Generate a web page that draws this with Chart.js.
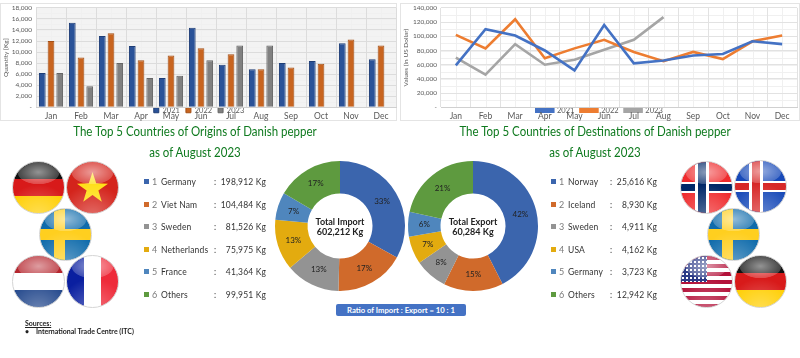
<!DOCTYPE html>
<html>
<head>
<meta charset="utf-8">
<title>Danish pepper trade</title>
<script src="https://cdn.jsdelivr.net/npm/chart.js@4"></script>
<style>
    html, body { margin: 0; padding: 0; background: #fff; }
    body { position: relative; width: 800px; height: 358px; overflow: hidden; font-family: Lato, sans-serif; color: #333; }
    canvas { position: absolute; }
    .panel { position: absolute; top: 3px; height: 118px; border: 1px solid #e4e4e4; box-sizing: border-box; }
    .title { position: absolute; transform: translateX(-50%) scaleX(.92); white-space: nowrap; color: #0f7a1f; font-size: 12.5px; line-height: 18px; }
    .row { position: absolute; height: 14px; line-height: 14px; font-size: 8.5px; letter-spacing: .15px; white-space: nowrap; }
    .row span { position: absolute; top: 0; }
    .row .sq { top: 4px; left: 0; width: 5px; height: 5px; }
    .row .num { left: 8px; color: #7a7a7a; font-size: 9px; }
    .row .name { left: 17px; }
    .row .val { right: 0; }
    .total { position: absolute; width: 80px; transform: translateX(-50%); text-align: center; font-size: 9px; line-height: 10px; font-weight: bold; color: #222; }
    .ratio { position: absolute; left: 336px; top: 304px; width: 130px; height: 12px; line-height: 12px; border-radius: 2px; background: #4472c4; color: #fff; font-size: 7.7px; font-weight: bold; text-align: center; }
    .src { position: absolute; font-size: 7px; font-weight: bold; color: #222; white-space: nowrap; }
    .flag { position: absolute; width: 53px; height: 53px; border-radius: 50%; overflow: hidden; box-sizing: border-box; border: 1.5px solid #d4d4d4; }
    .flag::after { content: ""; position: absolute; inset: 0; background:
        radial-gradient(ellipse 42% 24% at 50% 20%, rgba(255,255,255,.55), rgba(255,255,255,.22) 95%, rgba(255,255,255,0) 100%),
        radial-gradient(circle at 50% 110%, rgba(255,255,255,.35), rgba(255,255,255,0) 55%),
        radial-gradient(circle at 50% 50%, rgba(0,0,0,0) 70%, rgba(0,0,0,.18) 100%); }
    .star { position: absolute; left: 10px; top: 10px; width: 31px; height: 31px; background: #ffdf1a; clip-path: polygon(50% 0, 62% 36%, 100% 38%, 69% 60%, 80% 96%, 50% 74%, 20% 96%, 31% 60%, 0 38%, 38% 36%); }
    .germany { background: linear-gradient(#111 33%, #d81a1a 33% 66%, #ffce00 66%); }
    .vietnam { background: #d4241c; }
    .sweden { background: linear-gradient(#0f6bab 40%, #ffcf1f 40% 60%, #0f6bab 60%); }
    .sweden i { position: absolute; left: 14px; top: 0; width: 11px; height: 100%; background: #ffcf1f; }
    .netherlands { background: linear-gradient(#b5262e 33%, #fff 33% 66%, #21468b 66%); }
    .france { background: linear-gradient(90deg, #0a1fa0 33%, #fff 33% 66%, #ee2b3a 66%); }
    .norway { background: linear-gradient(#ef2b2d 40%, #fff 40% 43%, #002868 43% 57%, #fff 57% 60%, #ef2b2d 60%); }
    .norway i { position: absolute; left: 14px; top: 0; width: 8px; height: 100%; background: #002868; border-left: 3px solid #fff; border-right: 3px solid #fff; }
    .iceland { background: linear-gradient(#1749b8 40%, #fff 40% 43%, #d72828 43% 57%, #fff 57% 60%, #1749b8 60%); }
    .iceland i { position: absolute; left: 14px; top: 0; width: 8px; height: 100%; background: #d72828; border-left: 3px solid #fff; border-right: 3px solid #fff; }
    .usa { background: repeating-linear-gradient(#b3123a 0 4px, #fff 4px 8px); }
    .usa i { position: absolute; left: 0; top: 0; width: 26px; height: 26px; background: radial-gradient(circle, #fff 1px, transparent 1.2px) 0 0 / 4px 4px, #2b3a86; }
</style>
</head>
<body>
<div class="panel" style="left:0;width:397px"></div>
<div class="panel" style="left:400px;width:400px"></div>
<canvas id="barChart" width="397" height="149" style="left:0;top:0"></canvas>
<canvas id="lineChart" width="400" height="149" style="left:400px;top:0"></canvas>

<div class="title" style="left:195px;top:123px">The Top 5 Countries of Origins of Danish pepper</div>
<div class="title" style="left:195px;top:144px">as of August 2023</div>
<div class="title" style="left:595px;top:123px">The Top 5 Countries of Destinations of Danish pepper</div>
<div class="title" style="left:595px;top:144px">as of August 2023</div>

<div class="flag germany" style="left:12px;top:161px"></div>
<div class="flag vietnam" style="left:66px;top:161px"><div class="star"></div></div>
<div class="flag sweden" style="left:39px;top:208px"><i></i></div>
<div class="flag netherlands" style="left:12px;top:255px"></div>
<div class="flag france" style="left:66px;top:255px"></div>
<div class="flag norway" style="left:680px;top:161px"><i></i></div>
<div class="flag iceland" style="left:734px;top:160px"><i></i></div>
<div class="flag sweden" style="left:707px;top:208px"><i></i></div>
<div class="flag usa" style="left:680px;top:255px"><i></i></div>
<div class="flag germany" style="left:734px;top:255px"></div>

<canvas id="importChart" width="140" height="140" style="left:270px;top:156px"></canvas>
<canvas id="exportChart" width="140" height="140" style="left:403px;top:156px"></canvas>
<div class="total" style="left:340px;top:217px">Total Import<br>602,212 Kg</div>
<div class="total" style="left:473px;top:217px">Total Export<br>60,284 Kg</div>
<div class="ratio">Ratio of Import : Export = 10 : 1</div>

<div class="src" style="left:25px;top:319px;text-decoration:underline">Sources:</div>
<div class="src" style="left:25px;top:327px">•</div>
<div class="src" style="left:36px;top:327px">International Trade Centre (ITC)</div>

<div id="rows"></div>

<script>
const months = ["Jan", "Feb", "Mar", "Apr", "May", "Jun", "Jul", "Aug", "Sep", "Oct", "Nov", "Dec"];

// Quantity (Kg) per month
const qty2021 = [6200, 15300, 12900, 11100, 5300, 14400, 7700, 6900, 8000, 8400, 11600, 8700];
const qty2022 = [12000, 9000, 13400, 8500, 9400, 10700, 9600, 6900, 7200, 7900, 12300, 11200];
const qty2023 = [6200, 3800, 8000, 5300, 5700, 8500, 11200, 11200, null, null, null, null];

// Values (US dollar) per month
const val2021 = [59000, 110000, 101000, 80000, 52000, 116000, 62000, 66000, 73000, 75000, 93000, 89000];
const val2022 = [102000, 83000, 124000, 69000, 83000, 95000, 78000, 65000, 78000, 68000, 93000, 101000];
const val2023 = [70000, 46000, 89000, 60000, 67000, 81000, 95000, 127000, null, null, null, null];

const importNames = ["Germany", "Viet Nam", "Sweden", "Netherlands", "France", "Others"];
const importKg = [198912, 104484, 81526, 75975, 41364, 99951];
const importPct = [33, 17, 13, 13, 7, 17];

const exportNames = ["Norway", "Iceland", "Sweden", "USA", "Germany", "Others"];
const exportKg = [25616, 8930, 4911, 4162, 3723, 12942];
const exportPct = [42, 15, 8, 7, 6, 21];

const sliceColors = ["#3b65ad", "#d06a2b", "#939393", "#e3ab0f", "#4f86bd", "#5e9a3f"];

Chart.defaults.font.family = "Lato, sans-serif";
Chart.defaults.color = "#595959";
Chart.defaults.animation = false;
Chart.defaults.responsive = false;

function tickText(value) {
    return value === 0 ? "-" : value.toLocaleString("en-US");
}

// Faint lines between the main grid lines, and the legend moved up over the axis
function backdrop(fill, legendTop, minor) {
    return {
        id: "backdrop",
        afterLayout(chart) {
            chart.legend.top = legendTop;
        },
        beforeDraw(chart) {
            const area = chart.chartArea;
            const ctx = chart.ctx;
            ctx.save();
            ctx.fillStyle = fill;
            ctx.fillRect(area.left, area.top, area.width, area.height);
            ctx.strokeStyle = "#f0f0f0";
            ctx.lineWidth = 1;
            ctx.beginPath();
            const stepX = area.width / 12 / 2;
            for (let i = 1; i < 24; i += 2) {
                const x = Math.round(area.left + i * stepX) + 0.5;
                ctx.moveTo(x, area.top);
                ctx.lineTo(x, area.bottom);
            }
            const yScale = chart.scales.y;
            for (let v = yScale.min; v < yScale.max; v += minor) {
                const y = Math.round(yScale.getPixelForValue(v)) + 0.5;
                ctx.moveTo(area.left, y);
                ctx.lineTo(area.right, y);
            }
            ctx.stroke();
            ctx.restore();
        }
    };
}

function axes(maxValue, step, yTitle, yWidth, gridColor) {
    return {
        x: {
            offset: true,
            grid: { color: gridColor, drawTicks: false, offset: true },
            border: { color: "#d0d0d0" },
            ticks: { font: { size: 8.5 }, padding: 4, maxRotation: 0 }
        },
        y: {
            min: 0,
            max: maxValue,
            afterFit(scale) { scale.width = yWidth; },
            grid: { color: gridColor, drawTicks: false },
            border: { display: false },
            title: { display: true, text: yTitle, font: { size: 6.5 }, padding: 0 },
            ticks: { stepSize: step, autoSkip: false, font: { size: 6.5 }, padding: 4, callback: tickText }
        }
    };
}

new Chart(document.getElementById("barChart"), {
    type: "bar",
    data: {
        labels: months,
        datasets: [
            { label: "2021", data: qty2021, backgroundColor: "#2a5298", borderColor: "#1e3d76", borderWidth: 1 },
            { label: "2022", data: qty2022, backgroundColor: "#c8641f", borderColor: "#a34f16", borderWidth: 1 },
            { label: "2023", data: qty2023, backgroundColor: "#808080", borderColor: "#666666", borderWidth: 1 }
        ]
    },
    options: {
        layout: { padding: { top: 3, right: 1, left: 2 } },
        datasets: { bar: { categoryPercentage: 0.87, barPercentage: 0.77 } },
        scales: axes(18000, 2000, "Quantity [Kg]", 34, "#dcdcdc"),
        plugins: {
            tooltip: { enabled: false },
            legend: {
                position: "bottom",
                labels: { boxWidth: 5, boxHeight: 5, padding: 6, font: { size: 7.5 } }
            }
        }
    },
    plugins: [backdrop("#f3f3f3", 100.5, 1000)]
});

new Chart(document.getElementById("lineChart"), {
    type: "line",
    data: {
        labels: months,
        datasets: [
            { label: "2021", data: val2021, borderColor: "#4472c4", backgroundColor: "#4472c4" },
            { label: "2022", data: val2022, borderColor: "#ed7d31", backgroundColor: "#ed7d31" },
            { label: "2023", data: val2023, borderColor: "#a5a5a5", backgroundColor: "#a5a5a5" }
        ]
    },
    options: {
        layout: { padding: { top: 3, right: 3, left: 2 } },
        datasets: { line: { borderWidth: 2.6, pointRadius: 0, tension: 0 } },
        scales: axes(140000, 20000, "Values (in US Dollar)", 39, "#e2e2e2"),
        plugins: {
            tooltip: { enabled: false },
            legend: {
                position: "bottom",
                labels: { boxWidth: 17, boxHeight: 3, padding: 6, font: { size: 7.5 } }
            }
        }
    },
    plugins: [backdrop("#ffffff", 100.5, 10000)]
});

function drawDonut(id, labels, values, pct) {
    new Chart(document.getElementById(id), {
        type: "doughnut",
        data: {
            labels: labels,
            datasets: [{ data: values, backgroundColor: sliceColors, borderWidth: 0 }]
        },
        options: {
            cutout: "50%",
            layout: { padding: 5 },
            plugins: { legend: { display: false }, tooltip: { enabled: false } }
        },
        plugins: [{
            id: "pctLabels",
            afterDatasetsDraw(chart) {
                const ctx = chart.ctx;
                ctx.save();
                ctx.font = "8px Lato, sans-serif";
                ctx.fillStyle = "#222";
                ctx.textAlign = "center";
                ctx.textBaseline = "middle";
                chart.getDatasetMeta(0).data.forEach((arc, i) => {
                    const p = arc.tooltipPosition();
                    ctx.fillText(pct[i] + "%", p.x, p.y);
                });
                ctx.restore();
            }
        }]
    });
}

drawDonut("importChart", importNames, importKg, importPct);
drawDonut("exportChart", exportNames, exportKg, exportPct);

// Country lists beside the donuts
function addRows(names, kg, left, colonX, width) {
    const holder = document.getElementById("rows");
    names.forEach((name, i) => {
        const row = document.createElement("div");
        row.className = "row";
        row.style.left = left + "px";
        row.style.width = width + "px";
        row.style.top = (175 + i * 22.5) + "px";
        row.innerHTML = `
            <span class="sq" style="background:${sliceColors[i]}"></span>
            <span class="num">${i + 1}</span>
            <span class="name">${name}</span>
            <span style="left:${colonX}px">:</span>
            <span class="val">${kg[i].toLocaleString("en-US")} Kg</span>
        `;
        holder.appendChild(row);
    });
}

addRows(importNames, importKg, 144, 70, 122);
addRows(exportNames, exportKg, 551, 59, 106);
</script>
</body>
</html>
